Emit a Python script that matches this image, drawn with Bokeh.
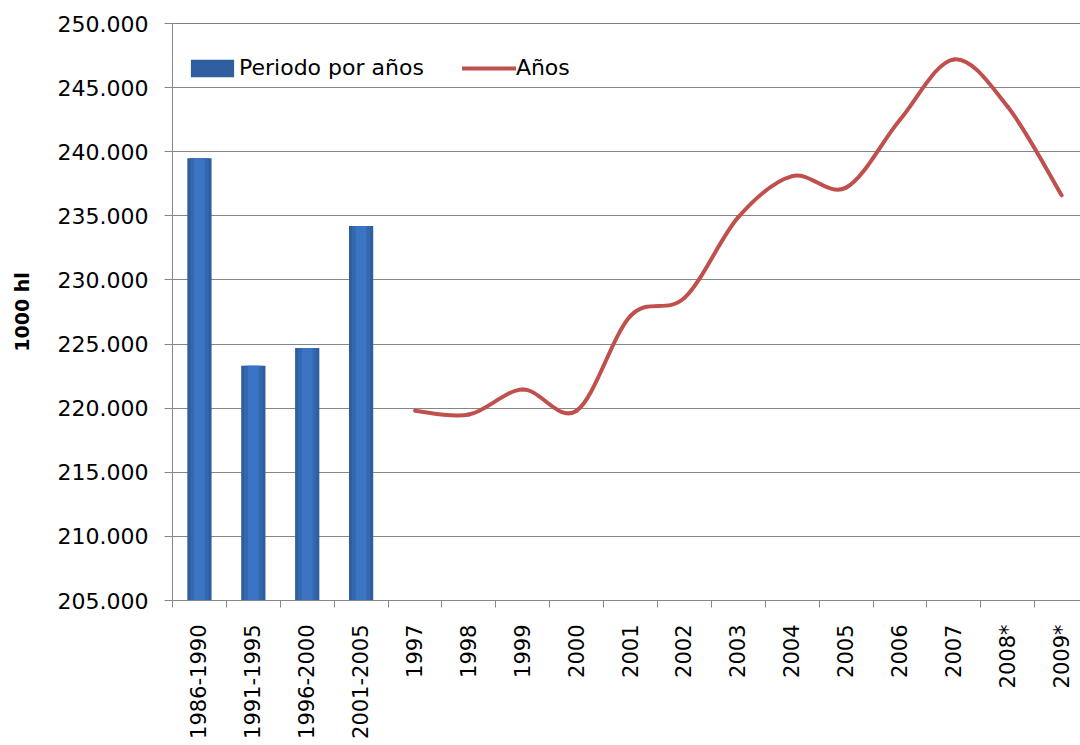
import math
from bokeh.plotting import figure
from bokeh.models import Range1d, FixedTicker, Span, Legend, LegendItem
from bokeh.embed import file_html
from bokeh.resources import INLINE

categories = ["1986-1990", "1991-1995", "1996-2000", "2001-2005", "1997", "1998", "1999",
              "2000", "2001", "2002", "2003", "2004", "2005", "2006", "2007", "2008*", "2009*"]
period_labels = ["1986-1990", "1991-1995", "1996-2000", "2001-2005"]
period_values = [239500, 223300, 224700, 234200]
year_labels = ["1997", "1998", "1999", "2000", "2001", "2002", "2003", "2004", "2005",
               "2006", "2007", "2008*", "2009*"]
year_values = [219800, 219500, 221450, 219800, 227200, 228600, 234900, 238100, 237200,
               242500, 247200, 243500, 236600]
y_ticks = [205000, 210000, 215000, 220000, 225000, 230000, 235000, 240000, 245000, 250000]

FONT = "DejaVu Sans"
GRID = "#868686"

p = figure(width=1080, height=745, output_backend="svg", toolbar_location=None,
           x_range=Range1d(0, 16.85), y_range=Range1d(205000, 250000),
           min_border_left=172, min_border_top=23, min_border_right=0, min_border_bottom=145)
p.outline_line_color = None
p.background_fill_color = "white"
p.xgrid.visible = False
p.ygrid.ticker = FixedTicker(ticks=y_ticks)
p.ygrid.grid_line_color = GRID
p.ygrid.grid_line_width = 1

# y axis
p.yaxis.ticker = FixedTicker(ticks=y_ticks)
p.yaxis.major_label_overrides = {t: f"{t:,}".replace(",", ".") for t in y_ticks}
p.yaxis.major_label_text_font = FONT
p.yaxis.major_label_text_font_size = "22px"
p.yaxis.major_label_text_color = "black"
p.yaxis.axis_line_color = GRID
p.yaxis.major_tick_line_color = GRID
p.yaxis.major_tick_out = 8
p.yaxis.major_tick_in = 0
p.yaxis.minor_tick_line_color = None
p.yaxis.major_label_standoff = 16
p.yaxis.axis_label = "1000 hl"
p.yaxis.axis_label_text_font = FONT
p.yaxis.axis_label_text_font_style = "bold"
p.yaxis.axis_label_text_font_size = "19px"
p.yaxis.axis_label_text_color = "black"
p.yaxis.axis_label_standoff = 22

# x axis: labels at category centers, tick marks at boundaries (minor ticks)
centers = [i + 0.5 for i in range(len(categories))]
bounds = [i for i in range(len(categories) + 1)]
p.xaxis.ticker = FixedTicker(ticks=centers, minor_ticks=bounds)
p.xaxis.major_label_overrides = {c: lab for c, lab in zip(centers, categories)}
p.xaxis.major_label_orientation = math.pi / 2
p.xaxis.major_label_text_font = FONT
p.xaxis.major_label_text_font_size = "21px"
p.xaxis.major_label_text_color = "black"
p.xaxis.major_tick_line_color = None
p.xaxis.major_tick_out = 0
p.xaxis.major_tick_in = 0
p.xaxis.major_label_standoff = 17
p.xaxis.minor_tick_line_color = GRID
p.xaxis.minor_tick_out = 7
p.xaxis.minor_tick_in = 0
p.xaxis.axis_line_color = GRID

top_line = Span(location=250000, dimension="width", line_color="black", line_width=1)
p.add_layout(top_line)

# bars (layered to imitate the cylindrical gradient)
bx = [categories.index(c) + 0.5 for c in period_labels]
outer = p.vbar(x=bx, top=period_values, bottom=205000, width=0.45,
               fill_color="#2F5E9E", line_color=None)
p.vbar(x=bx, top=period_values, bottom=205000, width=0.34,
       fill_color="#3468AE", line_color=None)
p.vbar(x=bx, top=period_values, bottom=205000, width=0.2,
       fill_color="#3B74C2", line_color=None)

# smoothed line (Bezier segments, Catmull-Rom style control points)
lx = [categories.index(c) + 0.5 for c in year_labels]
ly = year_values
n = len(lx)
x0, y0, x1, y1, cx0, cy0, cx1, cy1 = [], [], [], [], [], [], [], []
for i in range(n - 1):
    pxm, pym = (lx[i - 1], ly[i - 1]) if i > 0 else (lx[i], ly[i])
    pxp, pyp = (lx[i + 2], ly[i + 2]) if i + 2 < n else (lx[i + 1], ly[i + 1])
    x0.append(lx[i]); y0.append(ly[i]); x1.append(lx[i + 1]); y1.append(ly[i + 1])
    cx0.append(lx[i] + (lx[i + 1] - pxm) / 6); cy0.append(ly[i] + (ly[i + 1] - pym) / 6)
    cx1.append(lx[i + 1] - (pxp - lx[i]) / 6); cy1.append(ly[i + 1] - (pyp - ly[i]) / 6)
curve = p.bezier(x0=x0, y0=y0, x1=x1, y1=y1, cx0=cx0, cy0=cy0, cx1=cx1, cy1=cy1,
                 line_color="#C0504D", line_width=4, line_cap="round")

legend = Legend(items=[LegendItem(label="Periodo por años", renderers=[outer]),
                       LegendItem(label="Años", renderers=[curve])],
                location=(13, 520), orientation="horizontal")
legend.glyph_width = 54
legend.glyph_height = 22
legend.label_text_font = FONT
legend.label_text_font_size = "22px"
legend.label_text_color = "black"
legend.label_standoff = 0
legend.spacing = 38
legend.padding = 0
legend.margin = 0
legend.border_line_color = None
legend.background_fill_alpha = 0
p.add_layout(legend)

open("out.html", "w").write(file_html(p, INLINE))
